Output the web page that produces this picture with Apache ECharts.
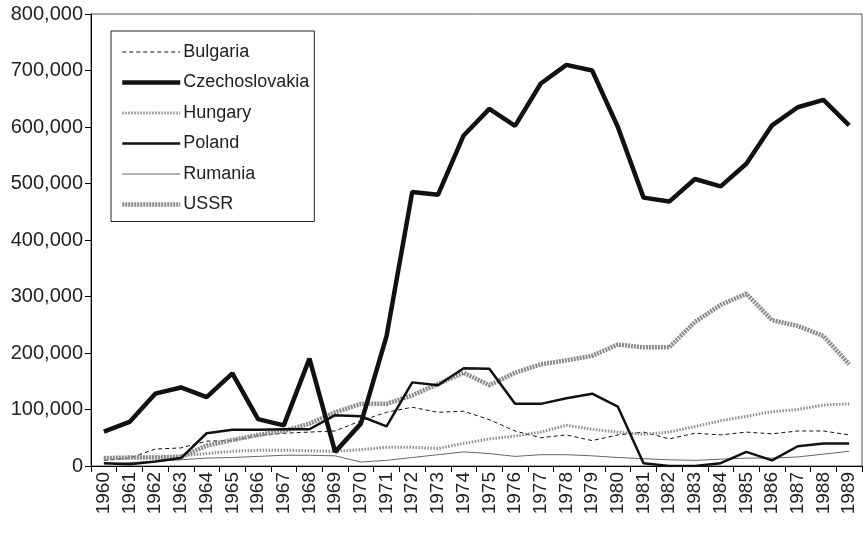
<!DOCTYPE html>
<html>
<head>
<meta charset="utf-8">
<script src="https://cdn.jsdelivr.net/npm/echarts@6/dist/echarts.min.js"></script>
<style>html,body{margin:0;padding:0;background:#fff}#c{width:865px;height:554px}</style>
</head>
<body>
<div id="c"></div>
<script>
const years = ['1960','1961','1962','1963','1964','1965','1966','1967','1968','1969','1970','1971','1972','1973','1974','1975','1976','1977','1978','1979','1980','1981','1982','1983','1984','1985','1986','1987','1988','1989'];
const bulgaria = [10,14,30,32,44,45,54,58,60,62,80,95,104,95,97,82,62,50,55,45,55,60,48,58,55,60,57,62,62,55].map(v=>v*1000);
const czechoslovakia = [61,78,128,139,122,164,83,72,190,25,75,230,485,480,585,632,602,677,710,700,600,475,468,508,495,535,603,635,648,603].map(v=>v*1000);
const hungary = [14,15,16,18,22,26,28,28,27,26,29,33,33,31,40,48,53,60,72,65,60,56,60,70,80,88,96,100,108,110].map(v=>v*1000);
const poland = [5,3,8,14,58,64,64,65,65,90,88,70,148,143,173,172,110,110,120,128,105,5,0,0,5,25,10,35,40,40].map(v=>v*1000);
const rumania = [4,6,8,11,14,15,17,19,19,18,7,10,15,20,25,22,17,20,20,18,15,13,11,10,12,14,14,16,21,26].map(v=>v*1000);
const ussr = [14,15,15,16,36,46,55,62,75,95,110,110,125,145,165,143,165,180,187,195,215,210,210,255,285,305,258,248,230,180].map(v=>v*1000);
const yTicks = {min:0, max:800000, interval:100000};

const font = '"Liberation Sans", Arial, sans-serif';
const chart = echarts.init(document.getElementById('c'), null, {renderer:'canvas'});
function mk(name, data, color, width, type, z){
  return {name, type:'line', data, symbol:'none', showSymbol:false, z,
    lineStyle:{color, width, type}, itemStyle:{color}, emphasis:{disabled:true}, animation:false};
}
chart.setOption({
  animation:false,
  grid:{left:91, top:14, right:3, bottom:88, show:true, borderColor:'#555', borderWidth:1},
  legend:{
    orient:'vertical', left:111, top:31,
    itemWidth:58, itemHeight:14, itemGap:12.5,
    padding:[12,5,8,9],
    borderColor:'#222', borderWidth:1,
    itemStyle:{opacity:0},
    lineStyle:{width:'inherit'},
    textStyle:{fontFamily:font, fontSize:18, color:'#222', padding:[0,0,0,-2]},
    data:['Bulgaria','Czechoslovakia','Hungary','Poland','Rumania','USSR']
  },
  xAxis:{
    type:'category', data:years, boundaryGap:true,
    axisLine:{lineStyle:{color:'#000', width:1}},
    axisTick:{show:true, length:6, lineStyle:{color:'#000'}},
    axisLabel:{rotate:90, fontFamily:font, fontSize:19, color:'#222', margin:6, interval:0}
  },
  yAxis:{
    type:'value', min:yTicks.min, max:yTicks.max, interval:yTicks.interval,
    splitLine:{show:false},
    axisLine:{show:true, lineStyle:{color:'#000', width:1}},
    axisTick:{show:true, length:6, lineStyle:{color:'#000'}},
    axisLabel:{fontFamily:font, fontSize:20, color:'#222', margin:8,
      formatter:v=>v.toLocaleString('en-US')}
  },
  series:[
    mk('Bulgaria', bulgaria, '#111', 1, [4,3], 2),
    mk('Czechoslovakia', czechoslovakia, '#111', 4.5, 'solid', 6),
    mk('Hungary', hungary, '#8f8f8f', 3, [1.5,1.5], 3),
    mk('Poland', poland, '#111', 2.5, 'solid', 5),
    mk('Rumania', rumania, '#666', 1, 'solid', 1),
    mk('USSR', ussr, '#8a8a8a', 4.5, [2,1], 4)
  ]
});
</script>
</body>
</html>
